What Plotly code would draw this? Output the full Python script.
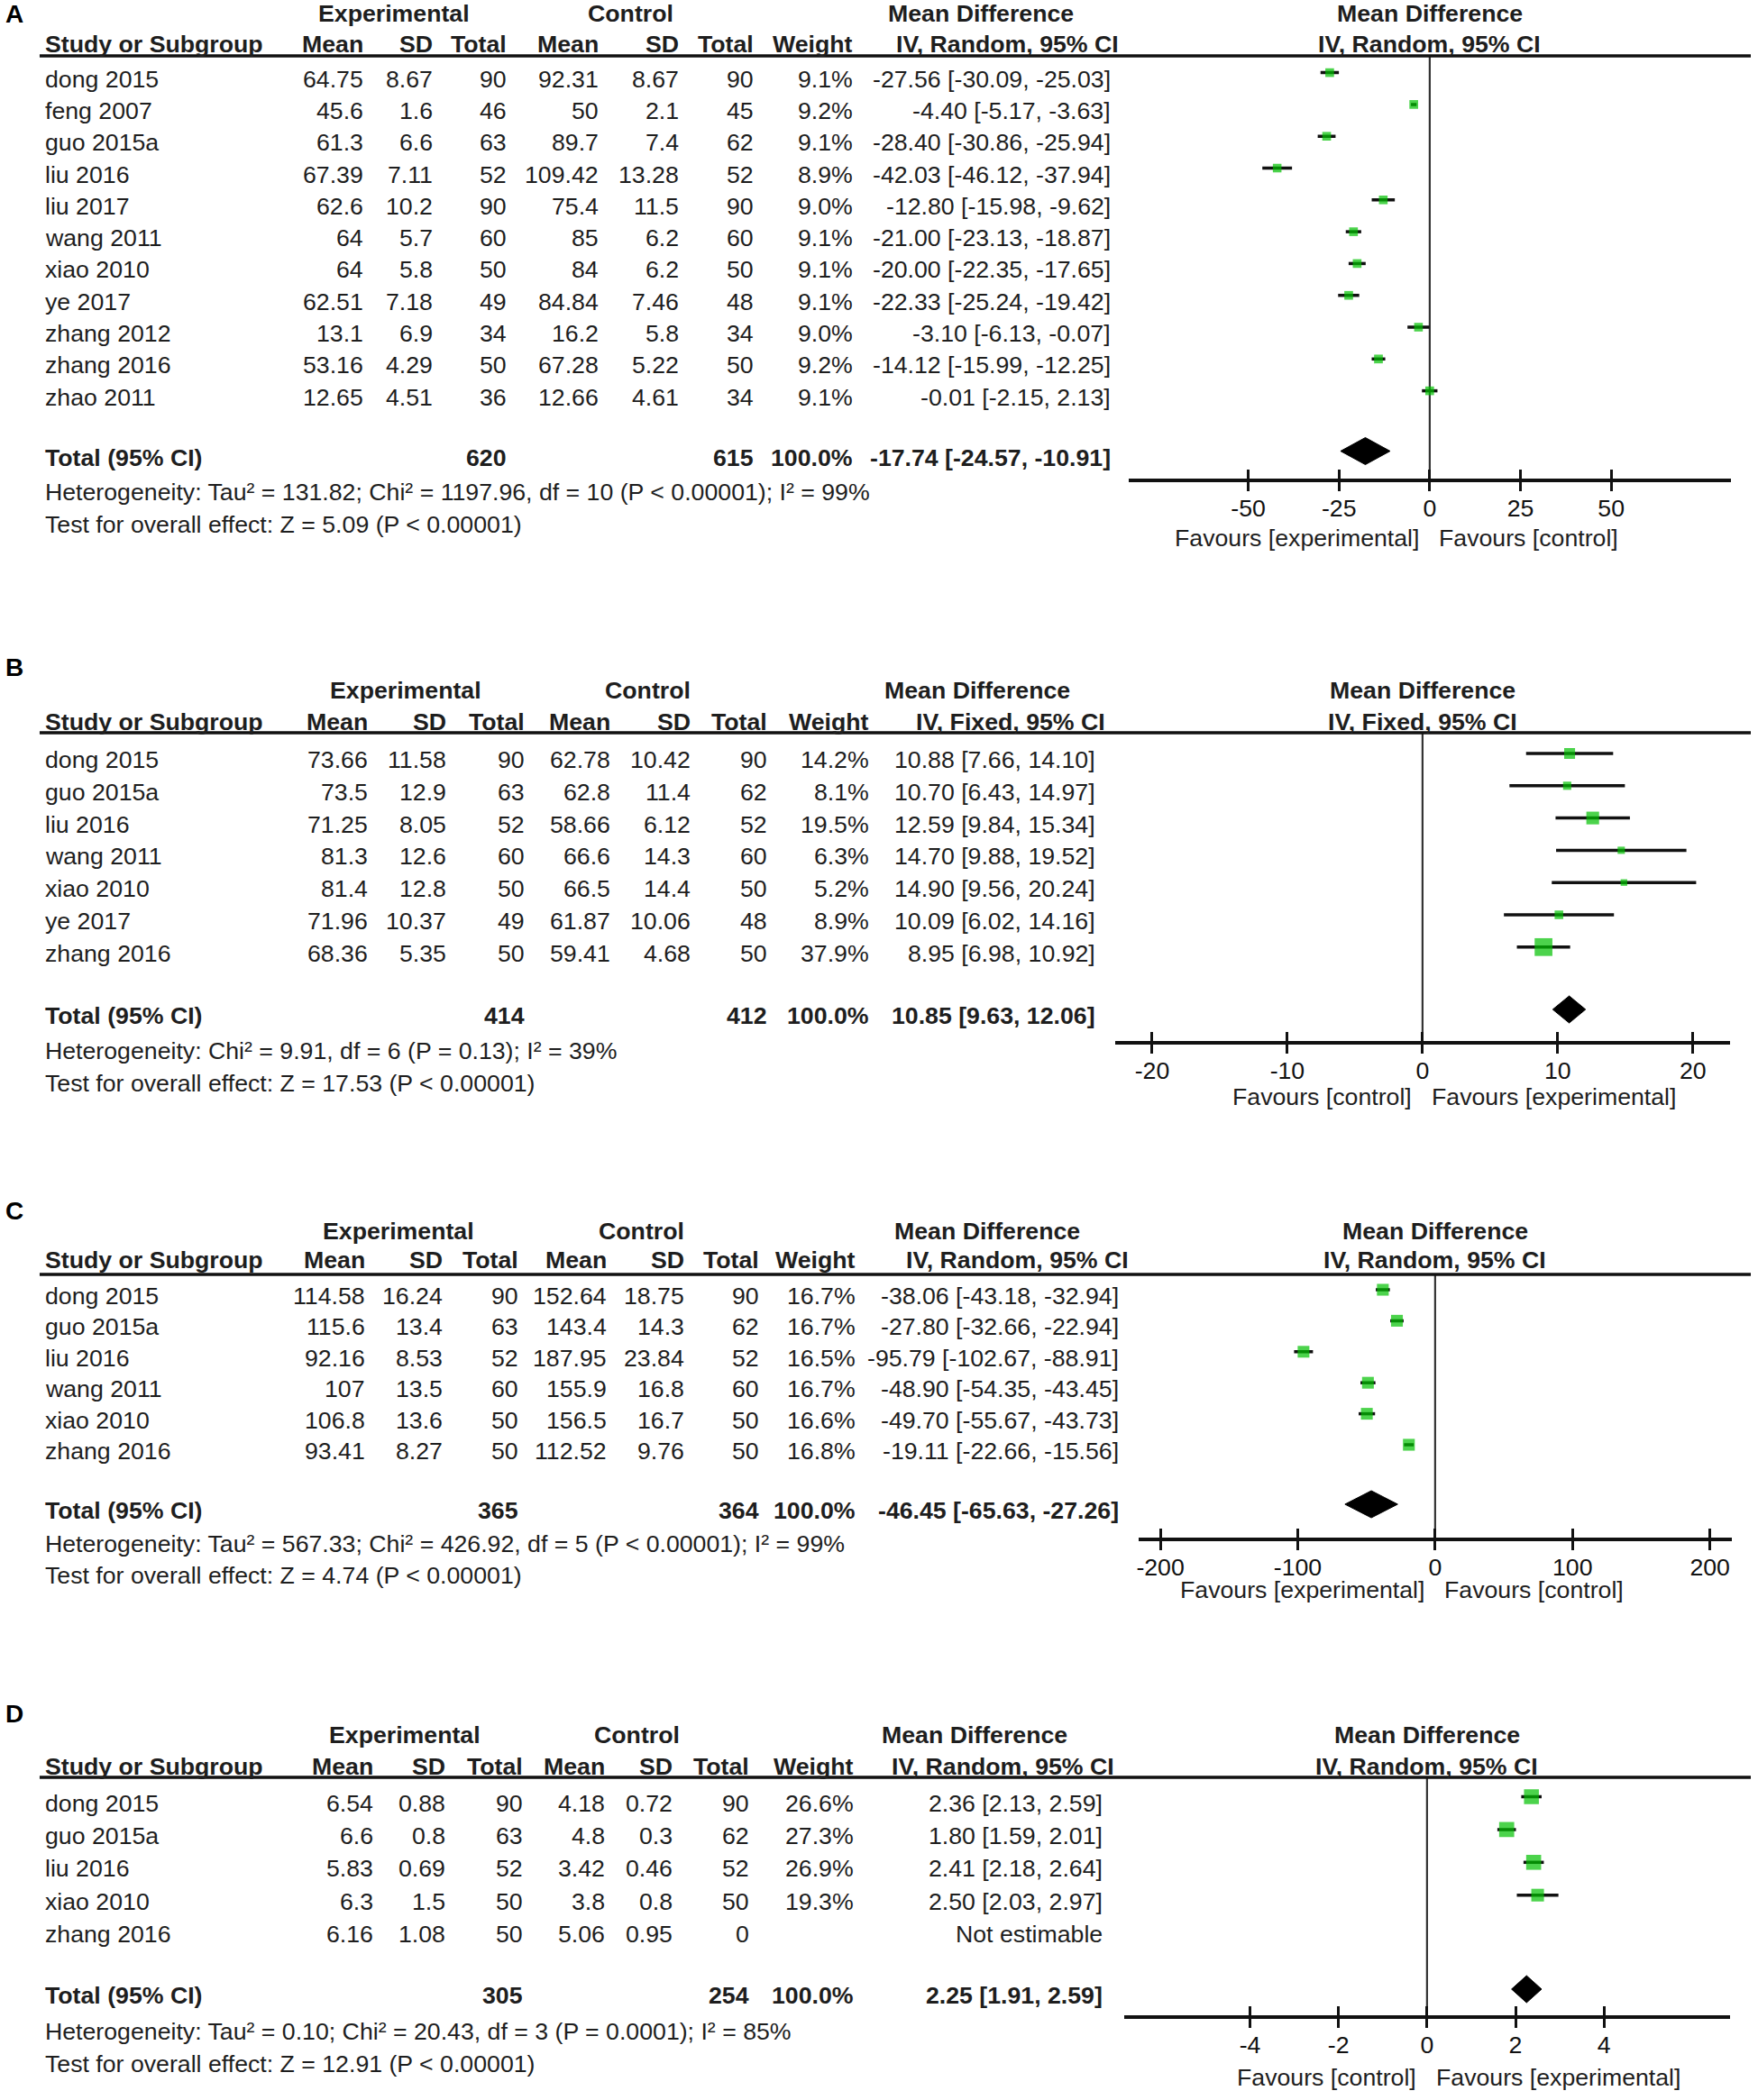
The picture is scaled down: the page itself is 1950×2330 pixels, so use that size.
import math
import plotly.graph_objects as go

W, H = 1950, 2330
FONT = "Liberation Sans, Arial, Helvetica, sans-serif"
TXT = "#1e1e1e"
GREEN = "#00c000"
FS = 26.7

# ---------------- Panel A data ----------------
A_study = ["dong 2015", "feng 2007", "guo 2015a", "liu 2016", "liu 2017", "wang 2011",
           "xiao 2010", "ye 2017", "zhang 2012", "zhang 2016", "zhao 2011"]
A_exp_mean = [64.75, 45.6, 61.3, 67.39, 62.6, 64, 64, 62.51, 13.1, 53.16, 12.65]
A_exp_sd = [8.67, 1.6, 6.6, 7.11, 10.2, 5.7, 5.8, 7.18, 6.9, 4.29, 4.51]
A_exp_n = [90, 46, 63, 52, 90, 60, 50, 49, 34, 50, 36]
A_ctl_mean = [92.31, 50, 89.7, 109.42, 75.4, 85, 84, 84.84, 16.2, 67.28, 12.66]
A_ctl_sd = [8.67, 2.1, 7.4, 13.28, 11.5, 6.2, 6.2, 7.46, 5.8, 5.22, 4.61]
A_ctl_n = [90, 45, 62, 52, 90, 60, 50, 48, 34, 50, 34]
A_weight = [9.1, 9.2, 9.1, 8.9, 9.0, 9.1, 9.1, 9.1, 9.0, 9.2, 9.1]
A_md = [-27.56, -4.40, -28.40, -42.03, -12.80, -21.00, -20.00, -22.33, -3.10, -14.12, -0.01]
A_lo = [-30.09, -5.17, -30.86, -46.12, -15.98, -23.13, -22.35, -25.24, -6.13, -15.99, -2.15]
A_hi = [-25.03, -3.63, -25.94, -37.94, -9.62, -18.87, -17.65, -19.42, -0.07, -12.25, 2.13]
A_total = [620, 615, 100.0, -17.74, -24.57, -10.91]
A_het = "Heterogeneity: Tau² = 131.82; Chi² = 1197.96, df = 10 (P < 0.00001); I² = 99%"
A_test = "Test for overall effect: Z = 5.09 (P < 0.00001)"
A_method = "IV, Random, 95% CI"
A_favours = ["Favours [experimental]", "Favours [control]"]
A_ticks = [-50, -25, 0, 25, 50]

# ---------------- Panel B data ----------------
B_study = ["dong 2015", "guo 2015a", "liu 2016", "wang 2011", "xiao 2010", "ye 2017", "zhang 2016"]
B_exp_mean = [73.66, 73.5, 71.25, 81.3, 81.4, 71.96, 68.36]
B_exp_sd = [11.58, 12.9, 8.05, 12.6, 12.8, 10.37, 5.35]
B_exp_n = [90, 63, 52, 60, 50, 49, 50]
B_ctl_mean = [62.78, 62.8, 58.66, 66.6, 66.5, 61.87, 59.41]
B_ctl_sd = [10.42, 11.4, 6.12, 14.3, 14.4, 10.06, 4.68]
B_ctl_n = [90, 62, 52, 60, 50, 48, 50]
B_weight = [14.2, 8.1, 19.5, 6.3, 5.2, 8.9, 37.9]
B_md = [10.88, 10.70, 12.59, 14.70, 14.90, 10.09, 8.95]
B_lo = [7.66, 6.43, 9.84, 9.88, 9.56, 6.02, 6.98]
B_hi = [14.10, 14.97, 15.34, 19.52, 20.24, 14.16, 10.92]
B_total = [414, 412, 100.0, 10.85, 9.63, 12.06]
B_het = "Heterogeneity: Chi² = 9.91, df = 6 (P = 0.13); I² = 39%"
B_test = "Test for overall effect: Z = 17.53 (P < 0.00001)"
B_method = "IV, Fixed, 95% CI"
B_favours = ["Favours [control]", "Favours [experimental]"]
B_ticks = [-20, -10, 0, 10, 20]

# ---------------- Panel C data ----------------
C_study = ["dong 2015", "guo 2015a", "liu 2016", "wang 2011", "xiao 2010", "zhang 2016"]
C_exp_mean = [114.58, 115.6, 92.16, 107, 106.8, 93.41]
C_exp_sd = [16.24, 13.4, 8.53, 13.5, 13.6, 8.27]
C_exp_n = [90, 63, 52, 60, 50, 50]
C_ctl_mean = [152.64, 143.4, 187.95, 155.9, 156.5, 112.52]
C_ctl_sd = [18.75, 14.3, 23.84, 16.8, 16.7, 9.76]
C_ctl_n = [90, 62, 52, 60, 50, 50]
C_weight = [16.7, 16.7, 16.5, 16.7, 16.6, 16.8]
C_md = [-38.06, -27.80, -95.79, -48.90, -49.70, -19.11]
C_lo = [-43.18, -32.66, -102.67, -54.35, -55.67, -22.66]
C_hi = [-32.94, -22.94, -88.91, -43.45, -43.73, -15.56]
C_total = [365, 364, 100.0, -46.45, -65.63, -27.26]
C_het = "Heterogeneity: Tau² = 567.33; Chi² = 426.92, df = 5 (P < 0.00001); I² = 99%"
C_test = "Test for overall effect: Z = 4.74 (P < 0.00001)"
C_method = "IV, Random, 95% CI"
C_favours = ["Favours [experimental]", "Favours [control]"]
C_ticks = [-200, -100, 0, 100, 200]

# ---------------- Panel D data ----------------
D_study = ["dong 2015", "guo 2015a", "liu 2016", "xiao 2010", "zhang 2016"]
D_exp_mean = [6.54, 6.6, 5.83, 6.3, 6.16]
D_exp_sd = [0.88, 0.8, 0.69, 1.5, 1.08]
D_exp_n = [90, 63, 52, 50, 50]
D_ctl_mean = [4.18, 4.8, 3.42, 3.8, 5.06]
D_ctl_sd = [0.72, 0.3, 0.46, 0.8, 0.95]
D_ctl_n = [90, 62, 52, 50, 0]
D_weight = [26.6, 27.3, 26.9, 19.3, None]
D_md = [2.36, 1.80, 2.41, 2.50, None]
D_lo = [2.13, 1.59, 2.18, 2.03, None]
D_hi = [2.59, 2.01, 2.64, 2.97, None]
D_total = [305, 254, 100.0, 2.25, 1.91, 2.59]
D_het = "Heterogeneity: Tau² = 0.10; Chi² = 20.43, df = 3 (P = 0.0001); I² = 85%"
D_test = "Test for overall effect: Z = 12.91 (P < 0.00001)"
D_method = "IV, Random, 95% CI"
D_favours = ["Favours [control]", "Favours [experimental]"]
D_ticks = [-4, -2, 0, 2, 4]

HEAD1 = ["Experimental", "Control", "Mean Difference"]
HEAD2 = ["Study or Subgroup", "Mean", "SD", "Total", "Mean", "SD", "Total", "Weight"]
NOT_EST = "Not estimable"
TOTAL_LABEL = "Total (95% CI)"

# ---------------- layout (pixel positions in the 1950x2330 page) ----------------
panels = [
    dict(letter="A", study=A_study, em=A_exp_mean, es=A_exp_sd, en=A_exp_n, cm=A_ctl_mean, cs=A_ctl_sd,
         cn=A_ctl_n, w=A_weight, md=A_md, lo=A_lo, hi=A_hi, tot=A_total, het=A_het, test=A_test,
         method=A_method, fav=A_favours, ticks=A_ticks,
         ly=15, h1=15, h2=49, hline=62, row0=87.6, sp=35.3, total=507.5, hety=546, testy=582,
         axis=531, favy=597, cols=[399, 476, 559, 661, 750, 833, 943, 1229], ivr=1238,
         hc=[435, 698, 1087], fx=[1251, 1920], R=83.0),
    dict(letter="B", study=B_study, em=B_exp_mean, es=B_exp_sd, en=B_exp_n, cm=B_ctl_mean, cs=B_ctl_sd,
         cn=B_ctl_n, w=B_weight, md=B_md, lo=B_lo, hi=B_hi, tot=B_total, het=B_het, test=B_test,
         method=B_method, fav=B_favours, ticks=B_ticks,
         ly=740, h1=766, h2=801, hline=813, row0=843, sp=35.8, total=1127, hety=1166, testy=1202,
         axis=1155, favy=1217, cols=[404, 491, 579, 674, 763, 848, 961, 1212], ivr=1223,
         hc=[448, 717, 1083], fx=[1236, 1919], R=22.75),
    dict(letter="C", study=C_study, em=C_exp_mean, es=C_exp_sd, en=C_exp_n, cm=C_ctl_mean, cs=C_ctl_sd,
         cn=C_ctl_n, w=C_weight, md=C_md, lo=C_lo, hi=C_hi, tot=C_total, het=C_het, test=C_test,
         method=C_method, fav=C_favours, ticks=C_ticks,
         ly=1343, h1=1366, h2=1398, hline=1414, row0=1438, sp=34.4, total=1676, hety=1713, testy=1748,
         axis=1706, favy=1764, cols=[401, 487, 572, 670, 756, 839, 946, 1238], ivr=1249,
         hc=[440, 710, 1094], fx=[1262, 1921], R=216.0),
    dict(letter="D", study=D_study, em=D_exp_mean, es=D_exp_sd, en=D_exp_n, cm=D_ctl_mean, cs=D_ctl_sd,
         cn=D_ctl_n, w=D_weight, md=D_md, lo=D_lo, hi=D_hi, tot=D_total, het=D_het, test=D_test,
         method=D_method, fav=D_favours, ticks=D_ticks,
         ly=1901, h1=1925, h2=1960, hline=1972, row0=2000.5, sp=36.4, total=2214, hety=2254, testy=2290,
         axis=2236, favy=2305, cols=[410, 490, 577, 668, 743, 828, 944, 1220], ivr=1233,
         hc=[447, 705, 1080], fx=[1246, 1919], R=6.85),
]

STUDY_X = 50
MARK_OFF = -7  # markers sit slightly above text rows
PAD = 3        # annotation inner padding compensation


def px_x(p):
    return p / W


def px_y(p):
    return 1 - p / H


fig = go.Figure()
# global page-pixel axes for the table text
fig.add_trace(go.Scatter(x=[None], y=[None], xaxis="x", yaxis="y", showlegend=False, hoverinfo="skip"))

layout = dict(
    width=W, height=H, margin=dict(l=0, r=0, t=0, b=0, pad=0),
    paper_bgcolor="white", plot_bgcolor="rgba(0,0,0,0)", showlegend=False,
    xaxis=dict(domain=[0, 1], range=[0, W], visible=False, fixedrange=True),
    yaxis=dict(domain=[0, 1], range=[H, 0], visible=False, fixedrange=True),
)

annotations = []
shapes = []


def txt(x, y, s, anchor="left", bold=False, xref="x", size=FS, xshift=0, color=TXT):
    if anchor == "left":
        xshift -= PAD
    elif anchor == "right":
        xshift += PAD
    annotations.append(dict(x=x, y=y, xref=xref, yref="y", text=(f"<b>{s}</b>" if bold else s),
                            showarrow=False, xanchor=anchor, yanchor="middle", xshift=xshift,
                            borderpad=0, font=dict(family=FONT, size=size, color=color)))


def fmt(v):
    return f"{v:g}"


for k, P in enumerate(panels):
    ax = k + 2
    xa, ya, xo = f"x{ax}", f"y{ax}", f"x{ax + 4}"
    cols = P["cols"]
    # panel letter
    txt(6, P["ly"], P["letter"], bold=True, size=28, color="#000")
    # header row 1
    txt(P["hc"][0], P["h1"], HEAD1[0], anchor="center", bold=True)
    txt(P["hc"][1], P["h1"], HEAD1[1], anchor="center", bold=True)
    txt(P["hc"][2], P["h1"], HEAD1[2], anchor="center", bold=True)
    txt(0, P["h1"], HEAD1[2], anchor="center", bold=True, xref=xa)
    # header row 2
    txt(STUDY_X, P["h2"], HEAD2[0], bold=True)
    for j, lab in enumerate(HEAD2[1:]):
        txt(cols[j], P["h2"], lab, anchor="right", bold=True)
    txt(P["ivr"], P["h2"], P["method"], anchor="right", bold=True)
    txt(0, P["h2"], P["method"], anchor="center", bold=True, xref=xa)
    # header line
    shapes.append(dict(type="line", xref="x", yref="y", x0=42, x1=1942, y0=P["hline"], y1=P["hline"],
                       line=dict(color="#111", width=3.5)))
    # study rows
    for i, s in enumerate(P["study"]):
        y = P["row0"] + i * P["sp"]
        txt(STUDY_X, y, s)
        vals = [fmt(P["em"][i]), fmt(P["es"][i]), str(P["en"][i]),
                fmt(P["cm"][i]), fmt(P["cs"][i]), str(P["cn"][i])]
        for j, v in enumerate(vals):
            txt(cols[j], y, v, anchor="right")
        if P["md"][i] is None:
            txt(cols[7], y, NOT_EST, anchor="right")
        else:
            txt(cols[6], y, f"{P['w'][i]:.1f}%", anchor="right")
            txt(cols[7], y, f"{P['md'][i]:.2f} [{P['lo'][i]:.2f}, {P['hi'][i]:.2f}]", anchor="right")
    # total row
    t = P["tot"]
    txt(STUDY_X, P["total"], TOTAL_LABEL, bold=True)
    txt(cols[2], P["total"], str(t[0]), anchor="right", bold=True)
    txt(cols[5], P["total"], str(t[1]), anchor="right", bold=True)
    txt(cols[6], P["total"], f"{t[2]:.1f}%", anchor="right", bold=True)
    txt(cols[7], P["total"], f"{t[3]:.2f} [{t[4]:.2f}, {t[5]:.2f}]", anchor="right", bold=True)
    txt(STUDY_X, P["hety"], P["het"])
    txt(STUDY_X, P["testy"], P["test"])
    # favours labels
    txt(0, P["favy"], P["fav"][0], anchor="right", xref=xa, xshift=-14)
    txt(0, P["favy"], P["fav"][1], anchor="left", xref=xa, xshift=12)

    # ---- forest axes ----
    fy0 = P["row0"] + MARK_OFF
    sp = P["sp"]
    yr = [(P["axis"] - fy0) / sp, (P["hline"] - fy0) / sp]
    layout[f"xaxis{ax}"] = dict(domain=[px_x(P["fx"][0]), px_x(P["fx"][1])], range=[-P["R"], P["R"]],
                                anchor=ya, showline=True, linewidth=3.5, linecolor="#111",
                                ticks="outside", ticklen=10, tickwidth=3, tickcolor="#111",
                                tickvals=P["ticks"], ticktext=[str(v) for v in P["ticks"]],
                                tickfont=dict(family=FONT, size=FS, color="#111"),
                                ticklabelstandoff=-4,
                                showgrid=False, zeroline=False, fixedrange=True)
    layout[f"yaxis{ax}"] = dict(domain=[px_y(P["axis"]), px_y(P["hline"])], range=yr,
                                anchor=xa, visible=False, showgrid=False, zeroline=False, fixedrange=True)
    layout[f"xaxis{ax + 4}"] = dict(overlaying=xa, anchor=ya, range=[-P["R"], P["R"]],
                                    ticks="inside", ticklen=10, tickwidth=3, tickcolor="#111",
                                    tickvals=P["ticks"], showticklabels=False, showline=False,
                                    showgrid=False, zeroline=False, fixedrange=True)
    fig.add_trace(go.Scatter(x=[None], y=[None], xaxis=xo, yaxis=ya, showlegend=False, hoverinfo="skip"))

    # zero line
    shapes.append(dict(type="line", xref=xa, yref="y", x0=0, x1=0, y0=P["hline"], y1=P["axis"],
                       line=dict(color="#333", width=2.2), layer="below"))

    # study estimates with CIs
    xs, ys, ep, em, sz = [], [], [], [], []
    for i in range(len(P["study"])):
        if P["md"][i] is None:
            continue
        xs.append(P["md"][i])
        ys.append(i)
        ep.append(P["hi"][i] - P["md"][i])
        em.append(P["md"][i] - P["lo"][i])
        sz.append(3.2 * math.sqrt(P["w"][i]))
    fig.add_trace(go.Scatter(
        x=xs, y=ys, xaxis=xa, yaxis=ya, mode="markers", cliponaxis=False,
        marker=dict(symbol="square", color=GREEN, size=sz, line=dict(width=0)),
        error_x=dict(type="data", symmetric=False, array=ep, arrayminus=em,
                     color="#111", thickness=3.5, width=0),
        showlegend=False, hoverinfo="skip"))

    # pooled diamond
    rt = (P["total"] - P["row0"]) / sp
    hh = 15 / sp
    fig.add_trace(go.Scatter(
        x=[t[4], t[3], t[5], t[3], t[4]], y=[rt, rt - hh, rt, rt + hh, rt],
        xaxis=xa, yaxis=ya, mode="lines", fill="toself", fillcolor="#000",
        line=dict(color="#000", width=1), cliponaxis=False, showlegend=False, hoverinfo="skip"))

layout["annotations"] = annotations
layout["shapes"] = shapes
fig.update_layout(**layout)
# remove the default 8px page margin so the figure fills the window exactly
fig.write_html("out.html", config={"displayModeBar": False, "staticPlot": True},
               post_script="document.body.style.margin='0';document.body.style.overflow='hidden';")
